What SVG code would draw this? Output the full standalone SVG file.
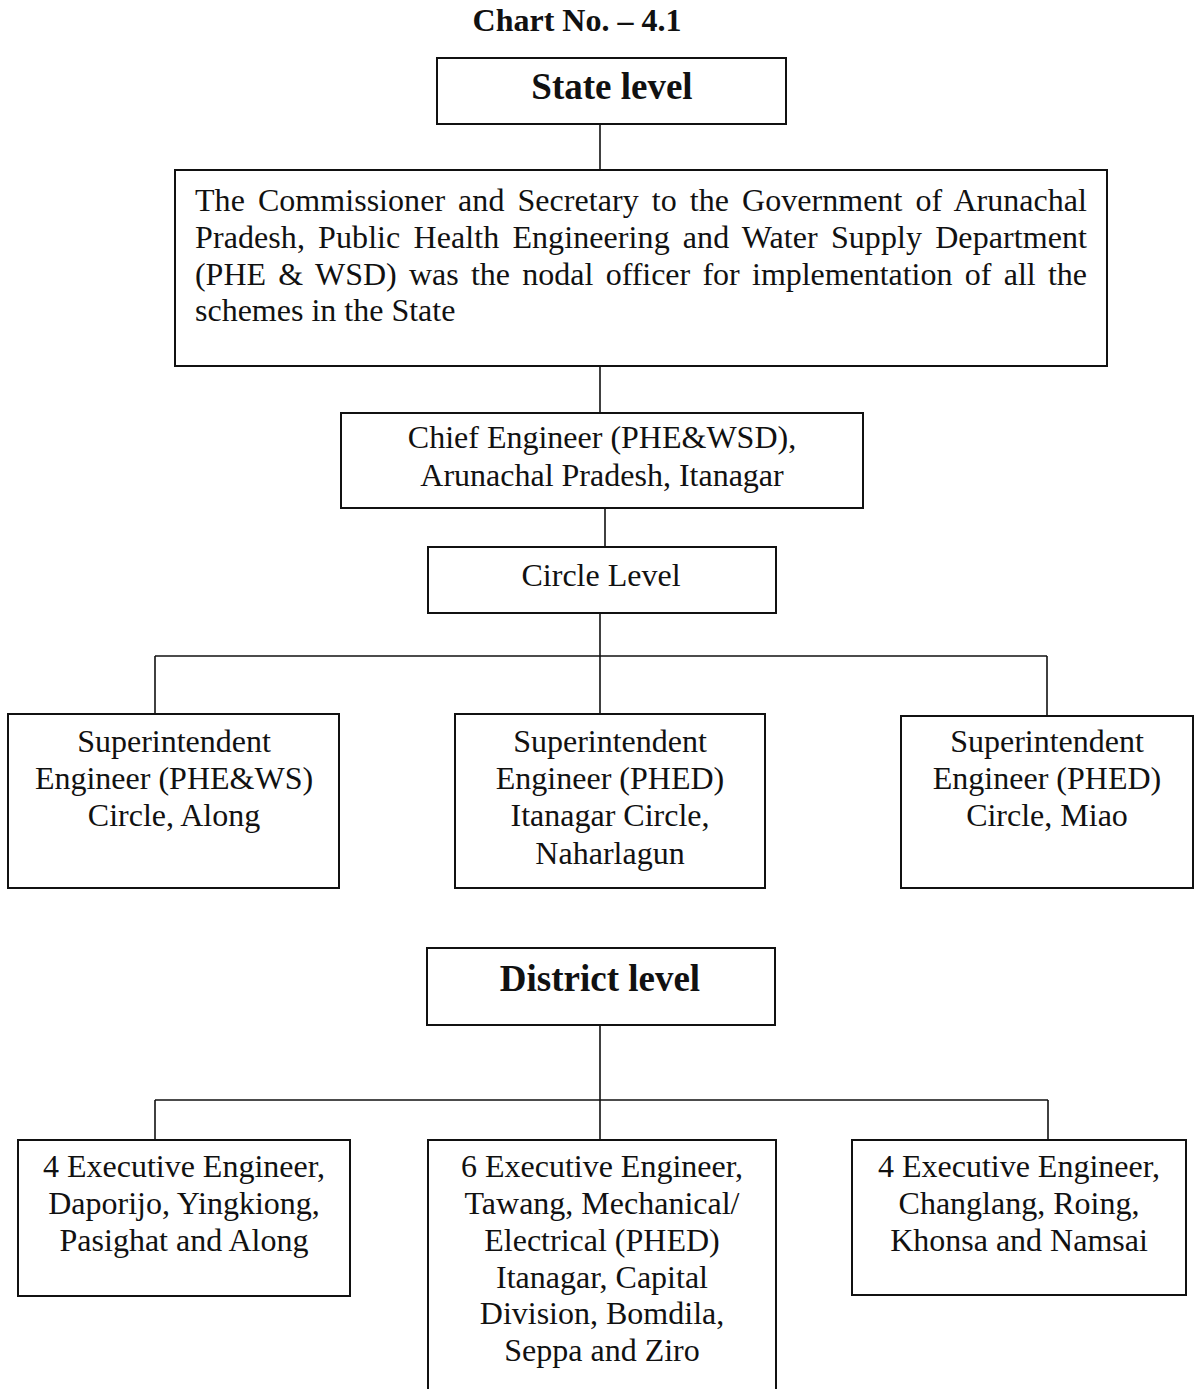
<svg xmlns="http://www.w3.org/2000/svg" width="1195" height="1389" viewBox="0 0 1195 1389">
<style>
.box{fill:#fff;stroke:#111;stroke-width:2}
.t{font-family:"Liberation Serif","Times New Roman",serif;font-size:32px;fill:#111;text-anchor:middle}
.j{font-family:"Liberation Serif","Times New Roman",serif;font-size:32px;fill:#111}
.h{font-family:"Liberation Serif","Times New Roman",serif;font-size:37px;font-weight:bold;fill:#111;text-anchor:middle}
.c{font-family:"Liberation Serif","Times New Roman",serif;font-size:32px;font-weight:bold;fill:#111;text-anchor:middle}
.ln{stroke:#111;stroke-width:1.6;fill:none}
</style>
<rect width="1195" height="1389" fill="#fff"/>
<text class="c" x="577" y="31">Chart No. – 4.1</text>
<g id="connectors">
<line class="ln" x1="600" y1="124" x2="600" y2="170"/>
<line class="ln" x1="600" y1="366" x2="600" y2="413"/>
<line class="ln" x1="605" y1="508" x2="605" y2="547"/>
<line class="ln" x1="600" y1="613" x2="600" y2="656"/>
<line class="ln" x1="155" y1="656" x2="1047" y2="656"/>
<line class="ln" x1="155" y1="656" x2="155" y2="714"/>
<line class="ln" x1="600" y1="656" x2="600" y2="714"/>
<line class="ln" x1="1047" y1="656" x2="1047" y2="716"/>
<line class="ln" x1="600" y1="1025" x2="600" y2="1100"/>
<line class="ln" x1="155" y1="1100" x2="1048" y2="1100"/>
<line class="ln" x1="155" y1="1100" x2="155" y2="1140"/>
<line class="ln" x1="600" y1="1100" x2="600" y2="1140"/>
<line class="ln" x1="1048" y1="1100" x2="1048" y2="1140"/>
</g>
<g id="state">
<rect class="box" x="437" y="58" width="349" height="66"/>
<text class="h" x="612" y="99">State level</text>
</g>
<g id="commissioner">
<rect class="box" x="175" y="170" width="932" height="196"/>
<text class="j" x="195" y="211" word-spacing="5" textLength="892" lengthAdjust="spacing">The Commissioner and Secretary to the Government of Arunachal</text>
<text class="j" x="195" y="248" word-spacing="5" textLength="892" lengthAdjust="spacing">Pradesh, Public Health Engineering and Water Supply Department</text>
<text class="j" x="195" y="285" word-spacing="4.4" textLength="892" lengthAdjust="spacing">(PHE &amp; WSD) was the nodal officer for implementation of all the</text>
<text class="j" x="195" y="321">schemes in the State</text>
</g>
<g id="chief">
<rect class="box" x="341" y="413" width="522" height="95"/>
<text class="t" x="602" y="448">Chief Engineer (PHE&amp;WSD),</text>
<text class="t" x="602" y="486">Arunachal Pradesh, Itanagar</text>
</g>
<g id="circle">
<rect class="box" x="428" y="547" width="348" height="66"/>
<text class="t" x="601" y="586">Circle Level</text>
</g>
<g id="se-along">
<rect class="box" x="8" y="714" width="331" height="174"/>
<text class="t" x="174" y="752">Superintendent</text>
<text class="t" x="174" y="789">Engineer (PHE&amp;WS)</text>
<text class="t" x="174" y="826">Circle, Along</text>
</g>
<g id="se-itanagar">
<rect class="box" x="455" y="714" width="310" height="174"/>
<text class="t" x="610" y="752">Superintendent</text>
<text class="t" x="610" y="789">Engineer (PHED)</text>
<text class="t" x="610" y="826">Itanagar Circle,</text>
<text class="t" x="610" y="864">Naharlagun</text>
</g>
<g id="se-miao">
<rect class="box" x="901" y="716" width="292" height="172"/>
<text class="t" x="1047" y="752">Superintendent</text>
<text class="t" x="1047" y="789">Engineer (PHED)</text>
<text class="t" x="1047" y="826">Circle, Miao</text>
</g>
<g id="district">
<rect class="box" x="427" y="948" width="348" height="77"/>
<text class="h" x="600" y="991">District level</text>
</g>
<g id="ee-left">
<rect class="box" x="18" y="1140" width="332" height="156"/>
<text class="t" x="184" y="1177">4 Executive Engineer,</text>
<text class="t" x="184" y="1214">Daporijo, Yingkiong,</text>
<text class="t" x="184" y="1251">Pasighat and Along</text>
</g>
<g id="ee-middle">
<rect class="box" x="428" y="1140" width="348" height="270"/>
<text class="t" x="602" y="1177">6 Executive Engineer,</text>
<text class="t" x="602" y="1214">Tawang, Mechanical/</text>
<text class="t" x="602" y="1251">Electrical (PHED)</text>
<text class="t" x="602" y="1288">Itanagar, Capital</text>
<text class="t" x="602" y="1324">Division, Bomdila,</text>
<text class="t" x="602" y="1361">Seppa and Ziro</text>
</g>
<g id="ee-right">
<rect class="box" x="852" y="1140" width="334" height="155"/>
<text class="t" x="1019" y="1177">4 Executive Engineer,</text>
<text class="t" x="1019" y="1214">Changlang, Roing,</text>
<text class="t" x="1019" y="1251">Khonsa and Namsai</text>
</g>
</svg>
